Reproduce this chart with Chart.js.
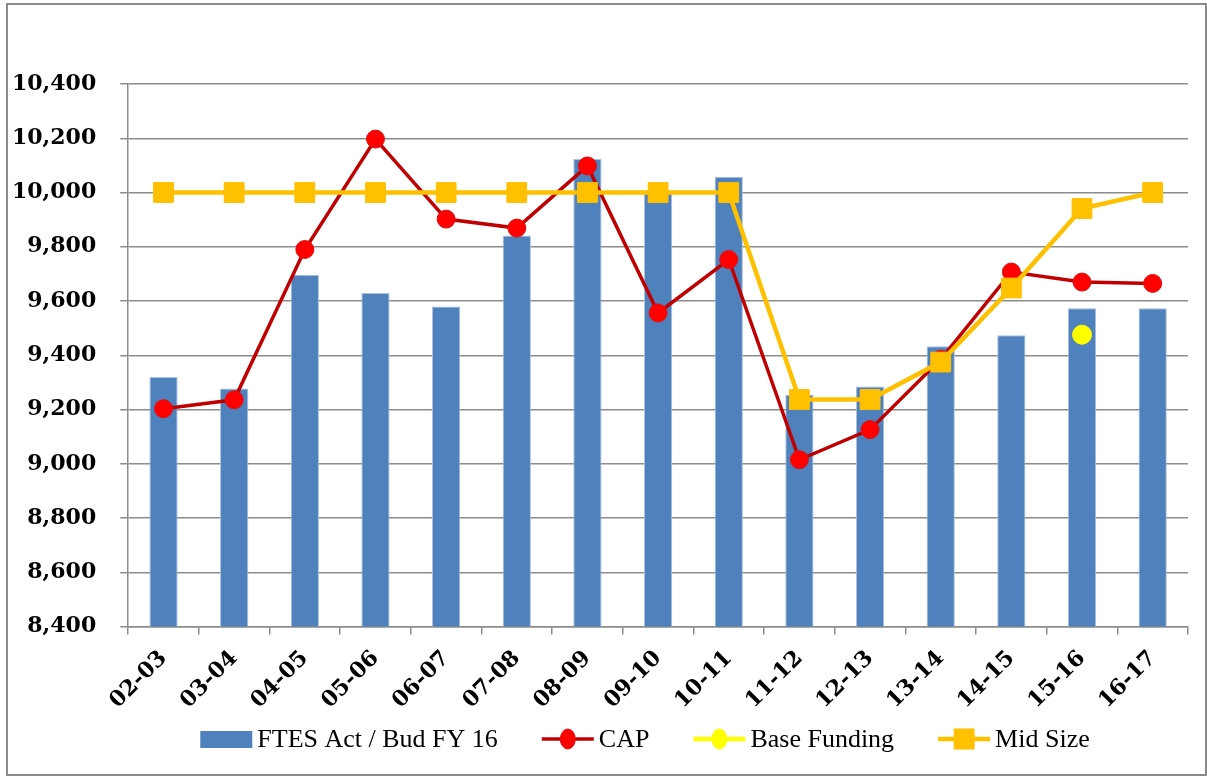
<!DOCTYPE html>
<html>
<head>
<meta charset="utf-8">
<script src="https://cdn.jsdelivr.net/npm/chart.js@4.4.1/dist/chart.umd.min.js"></script>
<style>
  html, body { margin: 0; padding: 0; background: #ffffff; }
  #wrap { position: absolute; left: 0; top: 0; width: 1207px; height: 776px; }
  #frame {
    position: absolute; left: 6px; top: 3px; width: 1201px; height: 773px;
    box-sizing: border-box; border: 2px solid #8a8a8a; pointer-events: none;
  }
</style>
</head>
<body>
<div id="wrap">
  <canvas id="fteChart" width="1207" height="776"></canvas>
  <div id="frame"></div>
</div>
<script>
const categories = ['02-03', '03-04', '04-05', '05-06', '06-07', '07-08', '08-09', '09-10',
                    '10-11', '11-12', '12-13', '13-14', '14-15', '15-16', '16-17'];
const fteActBud = [9320, 9278, 9697, 9630, 9580, 9842, 10124, 10000, 10058, 9255, 9285, 9433, 9474, 9573, 9573];
const capValues = [9203, 9236, 9790, 10197, 9902, 9869, 10098, 9556, 9753, 9015, 9126, 9385, 9707, 9670, 9665];
const baseFunding = [null, null, null, null, null, null, null, null, null, null, null, null, null, 9476, null];
const midSize = [10000, 10000, 10000, 10000, 10000, 10000, 10000, 10000, 10000, 9237, 9237, 9375, 9648, 9941, 10000];
const yTicks = [8400, 8600, 8800, 9000, 9200, 9400, 9600, 9800, 10000, 10200, 10400];

const tickFont = { family: 'DejaVu Serif', size: 22, weight: 'bold' };
const gridGrey = '#8c8c8c';

// draws legend as line + marker swatches like the office chart
const bottomLegendPlugin = {
  id: 'bottom_legend',
  afterDraw: function(chart, args, options) {
    const ctx = chart.ctx;
    const y = options.y;
    const swatchW = 52;
    const textGap = 5;
    const itemGap = 44;
    ctx.save();
    ctx.font = options.font;
    ctx.textBaseline = 'middle';
    ctx.textAlign = 'left';

    const items = chart.data.datasets.map(function(ds) {
      return { ds: ds, w: swatchW + textGap + ctx.measureText(ds.label).width };
    });
    let total = items.reduce(function(s, it) { return s + it.w; }, 0) + itemGap * (items.length - 1);
    let x = options.centerX - total / 2;

    items.forEach(function(it) {
      const ds = it.ds;
      const cx = x + swatchW / 2;
      if (ds.type === 'bar') {
        ctx.fillStyle = ds.backgroundColor;
        ctx.fillRect(x, y - 8, swatchW, 17);
      } else {
        ctx.strokeStyle = ds.borderColor;
        ctx.lineWidth = ds.borderWidth;
        ctx.beginPath();
        ctx.moveTo(x, y);
        ctx.lineTo(x + swatchW, y);
        ctx.stroke();
        ctx.fillStyle = ds.pointBackgroundColor;
        ctx.strokeStyle = ds.pointBorderColor;
        ctx.lineWidth = 1;
        ctx.beginPath();
        if (ds.pointStyle === 'rect') {
          ctx.rect(cx - 10, y - 10, 20, 20);
        } else {
          ctx.ellipse(cx, y, 7.5, 10, 0, 0, Math.PI * 2);
        }
        ctx.fill();
        ctx.stroke();
      }
      ctx.fillStyle = '#000000';
      ctx.fillText(ds.label, x + swatchW + textGap, y + 1);
      x += it.w + itemGap;
    });
    ctx.restore();
  }
};

function initChart() {
  Chart.register(bottomLegendPlugin);
  const ctx = document.getElementById('fteChart');
  return new Chart(ctx, {
    type: 'bar',
    data: {
      labels: categories,
      datasets: [
        {
          type: 'bar',
          label: 'FTES Act / Bud FY 16',
          data: fteActBud,
          backgroundColor: '#4f81bd',
          borderColor: '#a9c0de',
          borderWidth: 1,
          borderSkipped: 'bottom',
          categoryPercentage: 1.0,
          barPercentage: 0.4,
          order: 4
        },
        {
          type: 'line',
          label: 'CAP',
          data: capValues,
          borderColor: '#c00000',
          borderWidth: 3.5,
          tension: 0,
          pointStyle: 'circle',
          pointRadius: 9,
          pointBackgroundColor: '#ff0000',
          pointBorderColor: '#e01010',
          pointBorderWidth: 1,
          order: 3
        },
        {
          type: 'line',
          label: 'Base Funding',
          data: baseFunding,
          borderColor: '#ffff00',
          borderWidth: 4.5,
          pointStyle: 'circle',
          pointRadius: 9.5,
          pointBackgroundColor: '#ffff00',
          pointBorderColor: '#ffff00',
          pointBorderWidth: 1,
          order: 2
        },
        {
          type: 'line',
          label: 'Mid Size',
          data: midSize,
          borderColor: '#ffc000',
          borderWidth: 4.5,
          tension: 0,
          pointStyle: 'rect',
          pointRadius: 14,
          pointBackgroundColor: '#ffc000',
          pointBorderColor: '#ffc000',
          pointBorderWidth: 1,
          order: 1
        }
      ]
    },
    options: {
      responsive: false,
      animation: false,
      layout: {
        padding: { left: 12, right: 19, top: 84, bottom: 51 }
      },
      scales: {
        x: {
          offset: true,
          afterFit: function(axis) {
            axis.paddingLeft = 0;
            axis.paddingRight = 0;
          },
          grid: {
            display: true,
            offset: true,
            drawOnChartArea: false,
            drawTicks: true,
            tickLength: 8,
            color: gridGrey,
            lineWidth: 1.5
          },
          border: { color: gridGrey, width: 1.5 },
          ticks: {
            color: '#000000',
            font: tickFont,
            minRotation: 45,
            maxRotation: 45,
            padding: 11
          }
        },
        y: {
          min: 8400,
          max: 10400,
          afterBuildTicks: function(axis) {
            axis.ticks = yTicks.map(function(v) { return { value: v }; });
          },
          afterFit: function(axis) {
            // fit() reserves the tick padding twice; keep only one
            axis.width -= axis.options.ticks.padding;
          },
          grid: {
            color: gridGrey,
            lineWidth: 1.5,
            tickLength: 8
          },
          border: { color: gridGrey, width: 1.5 },
          ticks: {
            color: '#000000',
            font: tickFont,
            padding: 24,
            callback: function(v) { return Number(v).toLocaleString('en-US'); }
          }
        }
      },
      plugins: {
        legend: { display: false },
        tooltip: { enabled: false },
        bottom_legend: {
          y: 739,
          centerX: 645,
          font: '26px "Liberation Serif"'
        }
      }
    }
  });
}

var g_chart = initChart();
</script>
</body>
</html>
